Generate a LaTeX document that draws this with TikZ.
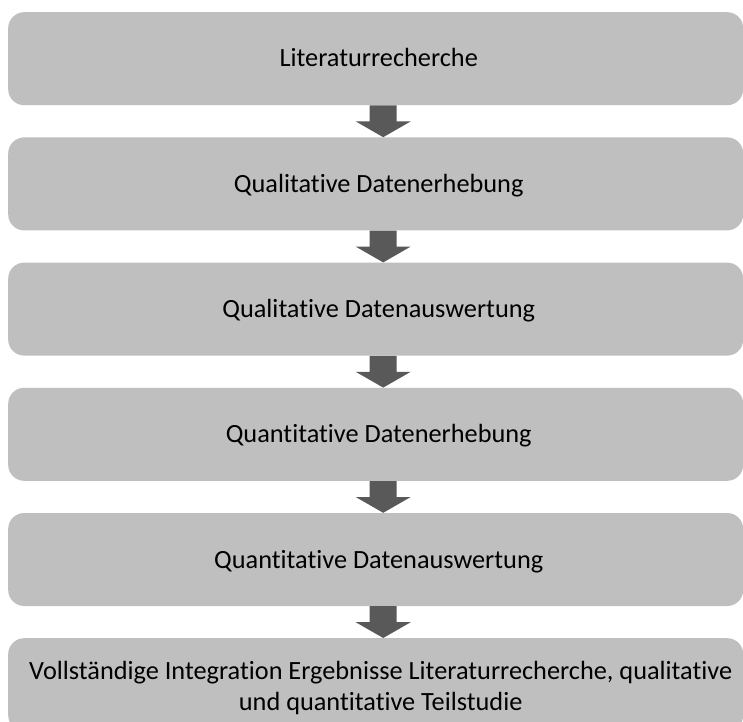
\documentclass[tikz,border=0pt]{standalone}
\usepackage{fontspec}
\setmainfont[Ligatures={NoCommon}]{Carlito}
\usetikzlibrary{calc}
\definecolor{boxgray}{HTML}{BFBFBF}
\definecolor{arrowgray}{HTML}{595959}
\tikzset{
  stepbox/.style={fill=boxgray, draw=none, rounded corners=16bp, minimum width=735bp, minimum height=93bp, inner sep=0pt, anchor=north west},
  steptext/.style={anchor=base, inner sep=0pt, font=\fontsize{26.3bp}{31.5bp}\selectfont, text=black},
  downarrow/.style={fill=arrowgray, draw=none}
}
\begin{document}
\begin{tikzpicture}[x=1bp,y=-1bp]
\useasboundingbox (0,0) rectangle (743,722);
\clip (0,0) rectangle (743,722);
\fill[white] (0,0) rectangle (743,722);
\node[stepbox] (b1) at (8,12) {};
\node[stepbox] (b2) at (8,137.2) {};
\node[stepbox] (b3) at (8,262.4) {};
\node[stepbox] (b4) at (8,387.6) {};
\node[stepbox] (b5) at (8,512.8) {};
\node[stepbox] (b6) at (8,638) {};
\node[steptext] (t1) at ($(b1.center)+(3,8.2)$) {Literaturrecherche};
\node[steptext] (t2) at ($(b2.center)+(3,8.6)$) {Qualitative Datenerhebung};
\node[steptext] (t3) at ($(b3.center)+(3,8.6)$) {Qualitative Datenauswertung};
\node[steptext] (t4) at ($(b4.center)+(3,8.6)$) {Quantitative Datenerhebung};
\node[steptext] (t5) at ($(b5.center)+(3,8.6)$) {Quantitative Datenauswertung};
\node[anchor=center, inner sep=0pt, align=center, font=\fontsize{26.3bp}{31.5bp}\selectfont] (t6) at ($(b6.north)+(5,50)$) {Vollständige Integration Ergebnisse Literaturrecherche, qualitative\\und quantitative Teilstudie};
\foreach \a/\b in {b1/b2,b2/b3,b3/b4,b4/b5,b5/b6}{
  \fill[downarrow] ($(\a.south)+(-6,0)$) -- ($(\a.south)+(21,0)$) -- ($(\a.south)+(21,16)$) -- ($(\a.south)+(35,16)$) -- ($(\b.north)+(7.5,0)$) -- ($(\a.south)+(-20,16)$) -- ($(\a.south)+(-6,16)$) -- cycle;
}
\end{tikzpicture}
\end{document}
